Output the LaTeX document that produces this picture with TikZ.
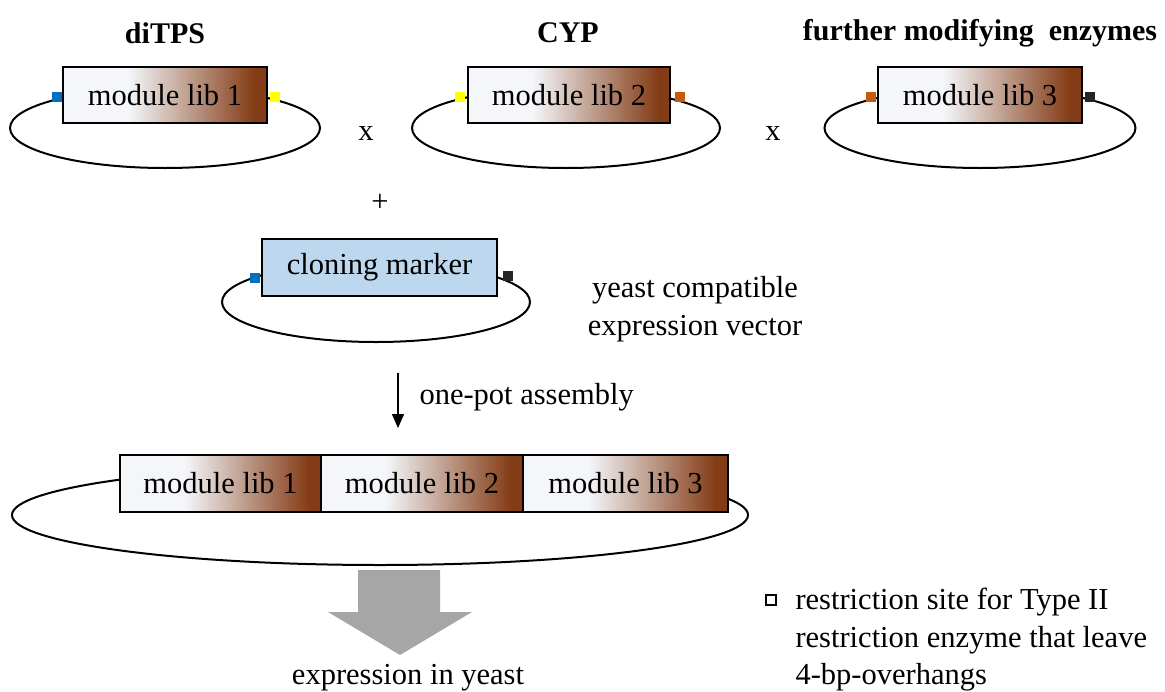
\documentclass[tikz,border=0pt]{standalone}
\usepackage{fontspec}
\setmainfont{Liberation Serif}
\usetikzlibrary{shapes.geometric,arrows.meta}

\definecolor{modwhite}{RGB}{244,246,250}
\definecolor{modbrown}{RGB}{132,60,22}
\definecolor{markerblue}{RGB}{189,215,238}
\definecolor{siteblue}{RGB}{0,112,192}
\definecolor{siteyellow}{RGB}{255,255,0}
\definecolor{siteorange}{RGB}{197,90,17}
\definecolor{sitedark}{RGB}{38,38,38}
\definecolor{bigarrow}{RGB}{166,166,166}

% white on the left, fading into brown towards the right edge
\pgfdeclarehorizontalshading{modshade}{100bp}{color(0bp)=(modwhite); color(25bp)=(modwhite); color(41bp)=(modwhite); color(72bp)=(modbrown); color(100bp)=(modbrown)}

\tikzset{
  plasmid/.style={draw, line width=2pt, ellipse, inner sep=0pt},
  libbox/.style={draw, line width=2.5pt, shading=modshade, minimum height=56pt, inner sep=0pt, font=\fontsize{30.5}{36}\selectfont},
  markerbox/.style={draw, line width=2.5pt, fill=markerblue, minimum height=57pt, inner sep=0pt, font=\fontsize{30.5}{36}\selectfont},
  site/.style={minimum size=10pt, inner sep=0pt, fill=#1},
  heading/.style={font=\bfseries\fontsize{30}{36}\selectfont},
  txt/.style={font=\fontsize{30.5}{37.5}\selectfont},
}

\begin{document}
\begin{tikzpicture}[x=1pt,y=-1pt]
\useasboundingbox (0,0) rectangle (1165,691);

% column headings
\node[heading] (h1) at (165,33) {diTPS};
\node[heading] (h2) at (568,33) {CYP};
\node[heading] (h3) at (980,33) {further modifying\ \ enzymes};

% three module library plasmids
\node[plasmid, minimum width=310pt, minimum height=80pt] (p1) at (165,128) {};
\node[libbox, minimum width=204pt] (m1) at (165,95) {module lib 1};
\node[site=siteblue] (s1a) at (57,97) {};
\node[site=siteyellow] (s1b) at (275,97) {};

\node[plasmid, minimum width=308pt, minimum height=80pt] (p2) at (566,128) {};
\node[libbox, minimum width=202pt] (m2) at (569,95) {module lib 2};
\node[site=siteyellow] (s2a) at (460,97) {};
\node[site=siteorange] (s2b) at (680,97) {};

\node[plasmid, minimum width=311pt, minimum height=80pt] (p3) at (980,128) {};
\node[libbox, minimum width=204pt] (m3) at (980,95) {module lib 3};
\node[site=siteorange] (s3a) at (871,97) {};
\node[site=sitedark] (s3b) at (1090,97) {};

\node[txt] (x1) at (366,133) {x};
\node[txt] (x2) at (773,133) {x};
\node[txt] (plus) at (380,203) {+};

% expression vector with cloning marker
\node[plasmid, minimum width=308pt, minimum height=80pt] (pv) at (376,302) {};
\node[markerbox, minimum width=235pt] (cm) at (379.5,267.5) {cloning marker};
\node[site=siteblue] (sva) at (255,278) {};
\node[site=sitedark] (svb) at (508,276) {};
\node[txt, align=center] (vec) at (695,309) {yeast compatible\\expression vector};

% assembly step
\coordinate (a0) at (398,373);
\coordinate (a1) at (398,428);
\draw[line width=1.5pt, -{Triangle[length=14pt,width=12pt]}] (a0) -- (a1);
\node[txt, anchor=west] (pot) at (416,397) {one-pot assembly};

% assembled plasmid
\node[plasmid, minimum width=736pt, minimum height=100pt] (pa) at (380,515) {};
\node[libbox, minimum width=201pt, minimum height=57pt] (r1) at (220.5,483.5) {module lib 1};
\node[libbox, minimum width=202pt, minimum height=57pt] (r2) at (422,483.5) {module lib 2};
\node[libbox, minimum width=205pt, minimum height=57pt] (r3) at (625.5,483.5) {module lib 3};

% expression step
\fill[bigarrow] (358,570) -- (440,570) -- (440,612) -- (472,612) -- (400,655) -- (328,612) -- (358,612) -- cycle;
\node[txt] (expr) at (408,678) {expression in yeast};

% legend
\node[draw, line width=2pt, fill=white, minimum size=10pt, inner sep=0pt] (leg) at (771,600) {};
\node[txt, anchor=west, align=left] (legtxt) at (792,640) {restriction site for Type II\\restriction enzyme that leave\\4-bp-overhangs};
\end{tikzpicture}
\end{document}
